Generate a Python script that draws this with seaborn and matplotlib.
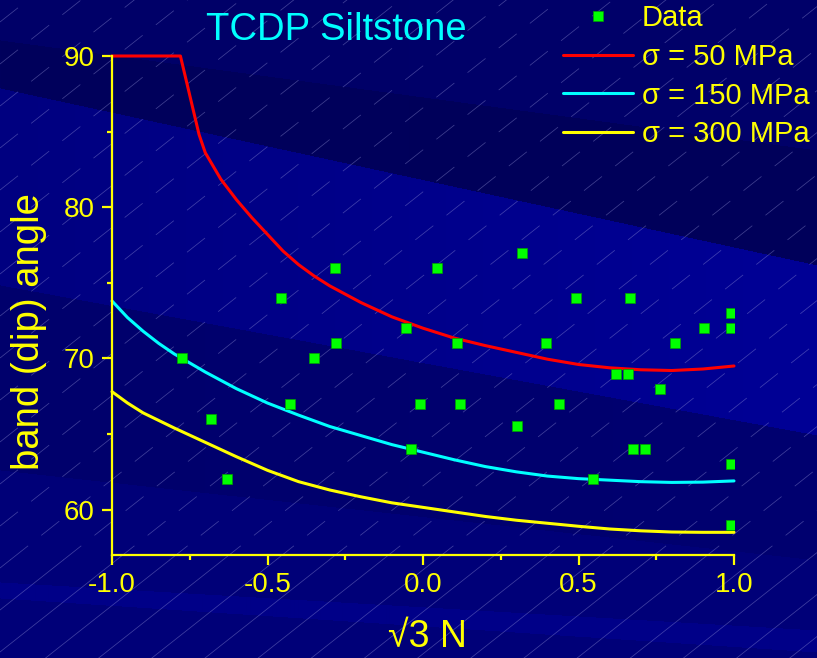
import numpy as np
import pandas as pd
import matplotlib
matplotlib.use("Agg")
import matplotlib.pyplot as plt
from matplotlib.lines import Line2D
from matplotlib.ticker import FixedLocator
import seaborn as sns

# ---- measured band angles (TCDP siltstone) ----
data_n = [-0.774, -0.681, -0.631, -0.458, -0.427, -0.351, -0.282, -0.280,
          -0.055, -0.040, -0.009, 0.044, 0.110, 0.118, 0.301, 0.319,
          0.396, 0.437, 0.492, 0.548, 0.620, 0.659, 0.666, 0.674,
          0.715, 0.763, 0.811, 0.905, 0.99, 0.99, 0.99, 0.99]
data_angle = [70, 66, 62, 74, 67, 70, 76, 71,
              72, 64, 67, 76, 71, 67, 65.5, 77,
              71, 67, 74, 62, 69, 69, 74, 64,
              64, 68, 71, 72, 73, 72, 63, 59]

# ---- predicted band angle for three confining stresses ----
s50_n = [-1.0, -0.78, -0.72, -0.70, -0.65, -0.60, -0.55, -0.50, -0.45,
         -0.40, -0.35, -0.30, -0.20, -0.10, 0.0, 0.1, 0.2, 0.3, 0.4, 0.5,
         0.6, 0.7, 0.8, 0.9, 1.0]
s50_angle = [90, 90, 84.8, 83.6, 81.85, 80.5, 79.3, 78.2, 77.1,
             76.2, 75.45, 74.8, 73.7, 72.75, 72.0, 71.35, 70.85, 70.4, 69.95, 69.6,
             69.38, 69.25, 69.2, 69.3, 69.5]

grid_n = [-1.0, -0.95, -0.9, -0.85, -0.8, -0.7, -0.6, -0.5, -0.4, -0.3, -0.2,
          -0.1, 0.0, 0.1, 0.2, 0.3, 0.4, 0.5, 0.6, 0.7, 0.8, 0.9, 1.0]
s150_angle = [73.8, 72.7, 71.8, 71.0, 70.3, 69.1, 68.0, 67.05, 66.25, 65.5, 64.9,
              64.3, 63.8, 63.3, 62.85, 62.5, 62.22, 62.05, 61.95, 61.85, 61.8,
              61.82, 61.9]
s300_angle = [67.8, 67.05, 66.4, 65.9, 65.4, 64.45, 63.5, 62.6, 61.85, 61.3, 60.85,
              60.45, 60.15, 59.85, 59.55, 59.3, 59.1, 58.9, 58.72, 58.6, 58.52,
              58.5, 58.5]

legend_labels = ["Data", "\u03c3 = 50 MPa", "\u03c3 = 150 MPa", "\u03c3 = 300 MPa"]
title_text = "TCDP Siltstone"
xlabel_text = "\u221a3 N"
ylabel_text = "band (dip) angle"

W, H = 817, 658
DPI = 100

sns.set_theme(style="white")
plt.rcParams["font.family"] = ["Liberation Sans", "DejaVu Sans"]
plt.rcParams["axes.unicode_minus"] = False

fig = plt.figure(figsize=(W / DPI, H / DPI), dpi=DPI)

# ---- slide-style backdrop: diagonal colour bands + faint hatch ----
bg = fig.add_axes([0, 0, 1, 1], zorder=-10)
bg.set_xlim(0, W)
bg.set_ylim(H, 0)
bg.axis("off")

yy, xx = np.mgrid[0:H, 0:W].astype(float)
img = np.zeros((H, W, 3))


def hexrgb(h):
    h = h.lstrip("#")
    return np.array([int(h[i:i + 2], 16) / 255 for i in (0, 2, 4)])


img[:] = hexrgb("#000078")


def paint_band(t0, t1, b0, b1, c_left, c_right=None):
    top = t0 + (t1 - t0) * xx / W
    bot = b0 + (b1 - b0) * xx / W
    m = (yy >= top) & (yy < bot)
    cl = hexrgb(c_left)
    cr = hexrgb(c_right or c_left)
    f = (xx / W)[..., None]
    col = cl * (1 - f) + cr * f
    img[m] = col[m]


paint_band(-50, -50, 40, 150, "#000068", "#00006a")
paint_band(40, 150, 88, 265, "#00005c", "#00005a")
paint_band(88, 265, 285, 435, "#000080", "#000096")
paint_band(285, 435, 470, 560, "#00006c", "#000070")
paint_band(582, 630, 598, 652, "#000088")
bg.imshow(img, extent=(0, W, H, 0), aspect="auto", interpolation="bilinear")

slope = -0.79
for c in np.arange(-20, H + 0.79 * W + 60, 42):
    # upper part dashed, lower part solid
    x_cut = (c - 560) / 0.79
    xs_top = np.array([max(0, x_cut), W])
    ys_top = c + slope * xs_top
    bg.plot(xs_top, ys_top, color="#a0a0e0", lw=0.55, alpha=0.4,
            dashes=(30, 22), solid_capstyle="butt")
    xs_bot = np.array([0, max(0, x_cut)])
    ys_bot = c + slope * xs_bot
    bg.plot(xs_bot, ys_bot, color="#a0a0e0", lw=0.55, alpha=0.4)

# ---- main plot ----
left, right, top, bottom = 112, 734, 56, 555
ax = fig.add_axes([left / W, 1 - bottom / H, (right - left) / W, (bottom - top) / H])
ax.set_facecolor("none")

s50 = pd.DataFrame({"n": s50_n, "angle": s50_angle})
curves = pd.DataFrame({"n": grid_n, "s150": s150_angle, "s300": s300_angle})
pts = pd.DataFrame({"n": data_n, "angle": data_angle})

sns.lineplot(data=curves, x="n", y="s300", color="#ffff00", lw=2.2,
             estimator=None, sort=False, ax=ax)
sns.lineplot(data=curves, x="n", y="s150", color="#00ffff", lw=2.2,
             estimator=None, sort=False, ax=ax)
sns.lineplot(data=s50, x="n", y="angle", color="#ff0000", lw=2.2,
             estimator=None, sort=False, ax=ax)
for ln in ax.lines:
    ln.set_clip_on(False)
    ln.set_solid_joinstyle("round")
sns.scatterplot(data=pts, x="n", y="angle", marker="s", s=62, color="#00ff00",
                edgecolor="#00a000", linewidth=0.5, ax=ax, zorder=5)

ax.set_xlim(-1.0, 1.0)
ax.set_ylim(57, 90)
ax.set_xlabel("")
ax.set_ylabel("")

ax.xaxis.set_major_locator(FixedLocator([-1.0, -0.5, 0.0, 0.5, 1.0]))
ax.xaxis.set_minor_locator(FixedLocator([-0.75, -0.25, 0.25, 0.75]))
ax.set_xticklabels(["-1.0", "-0.5", "0.0", "0.5", "1.0"])
ax.yaxis.set_major_locator(FixedLocator([60, 70, 80, 90]))
ax.yaxis.set_minor_locator(FixedLocator([65, 75, 85]))
ax.set_yticklabels(["60", "70", "80", "90"])

yellow = "#ffff00"
for side in ("top", "right"):
    ax.spines[side].set_visible(False)
for side in ("left", "bottom"):
    ax.spines[side].set_color(yellow)
    ax.spines[side].set_linewidth(1.6)
ax.tick_params(which="major", direction="out", length=7.5, width=1.6,
               color=yellow, labelcolor=yellow, labelsize=20, pad=5,
               bottom=True, left=True)
ax.tick_params(which="minor", direction="out", length=3.8, width=1.6,
               color=yellow, bottom=True, left=True)

fig.text(336 / W, 1 - 40 / H, title_text, color="#00ffff", fontsize=27.5,
         ha="center", va="baseline")
fig.text(29 / W, 1 - 332 / H, ylabel_text, color=yellow, fontsize=27.5,
         rotation=90, ha="center", va="center")
fig.text(427 / W, 1 - 647 / H, xlabel_text, color=yellow, fontsize=27,
         ha="center", va="baseline")

handles = [
    Line2D([], [], marker="s", ls="none", color="#00ff00", markeredgecolor="#00a000",
           markeredgewidth=0.5, markersize=7.8),
    Line2D([], [], color="#ff0000", lw=2.2),
    Line2D([], [], color="#00ffff", lw=2.2),
    Line2D([], [], color="#ffff00", lw=2.2),
]
fig.legend(handles, legend_labels, loc="upper left",
           bbox_to_anchor=(563 / W, 1 - 4 / H), frameon=False, borderpad=0,
           borderaxespad=0, handlelength=2.4, handletextpad=0.3,
           labelspacing=0.37, fontsize=21, labelcolor=yellow)

fig.savefig("out.png", dpi=DPI)
